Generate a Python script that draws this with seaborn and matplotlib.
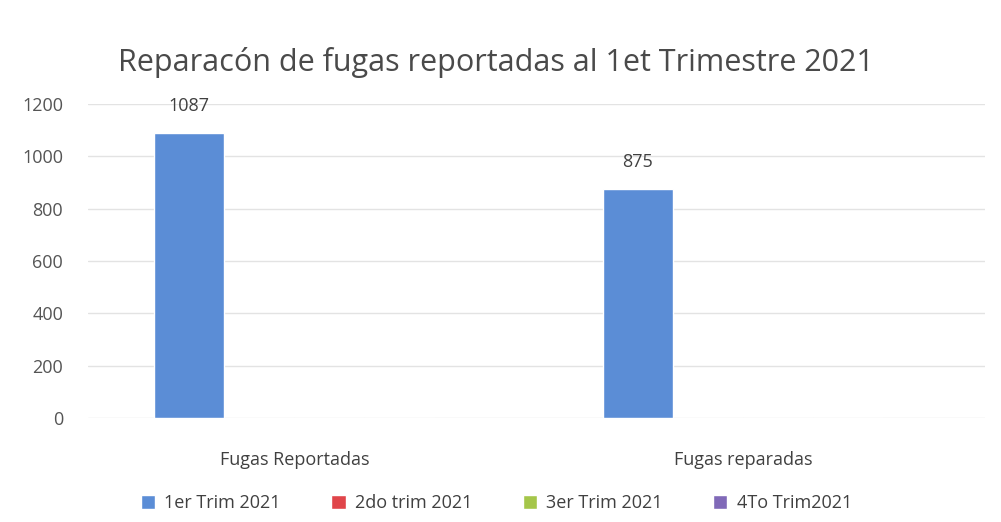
import pandas as pd
import matplotlib.pyplot as plt
import seaborn as sns

# ---------- data ----------
categorias = ["Fugas Reportadas", "Fugas reparadas"]
trimestres = ["1er Trim 2021", "2do trim 2021", "3er Trim 2021", "4To Trim2021"]
trim1 = [1087, 875]
trim2 = [0, 0]
trim3 = [0, 0]
trim4 = [0, 0]
colores = ["#5B8DD6", "#E0454A", "#A5C64A", "#8069B8"]

df = pd.DataFrame({
    "categoria": categorias * 4,
    "trimestre": [t for t in trimestres for _ in categorias],
    "valor": trim1 + trim2 + trim3 + trim4,
})

sns.set_theme(style="white")
plt.rcParams["font.family"] = ["Open Sans", "DejaVu Sans"]

fig = plt.figure(figsize=(10.01, 5.22), dpi=100)
ax = fig.add_axes([0.088, 0.199, 0.896, 0.602])

sns.barplot(data=df, x="categoria", y="valor", hue="trimestre",
            hue_order=trimestres, palette=colores, width=0.625,
            saturation=1, ax=ax)

ax.bar_label(ax.containers[0], labels=[str(v) for v in trim1],
             padding=13, fontsize=13, color="#404040")

ax.set_ylim(0, 1200)
ax.set_yticks(range(0, 1201, 200))
ax.set_xlim(-0.46, 1.54)
ax.grid(axis="y", color="#e3e3e3", lw=1)
ax.set_axisbelow(True)
for s in ax.spines.values():
    s.set_visible(False)
ax.set_xlabel("")
ax.set_ylabel("")
ax.tick_params(axis="y", labelsize=13, labelcolor="#555555", pad=18, length=0)
ax.tick_params(axis="x", labelsize=13, labelcolor="#404040", pad=24, length=0)

ax.set_title("Reparacón de fugas reportadas al 1et Trimestre 2021",
             fontsize=22, color="#4a4a4a", pad=24, x=0.455)

ax.legend(loc="upper center", bbox_to_anchor=(0.455, -0.19), ncol=4,
          frameon=False, fontsize=13, handlelength=0.8, handleheight=0.8,
          columnspacing=2.8, handletextpad=0.5, labelcolor="#404040")

fig.savefig("out.png", dpi=100, facecolor="white")
